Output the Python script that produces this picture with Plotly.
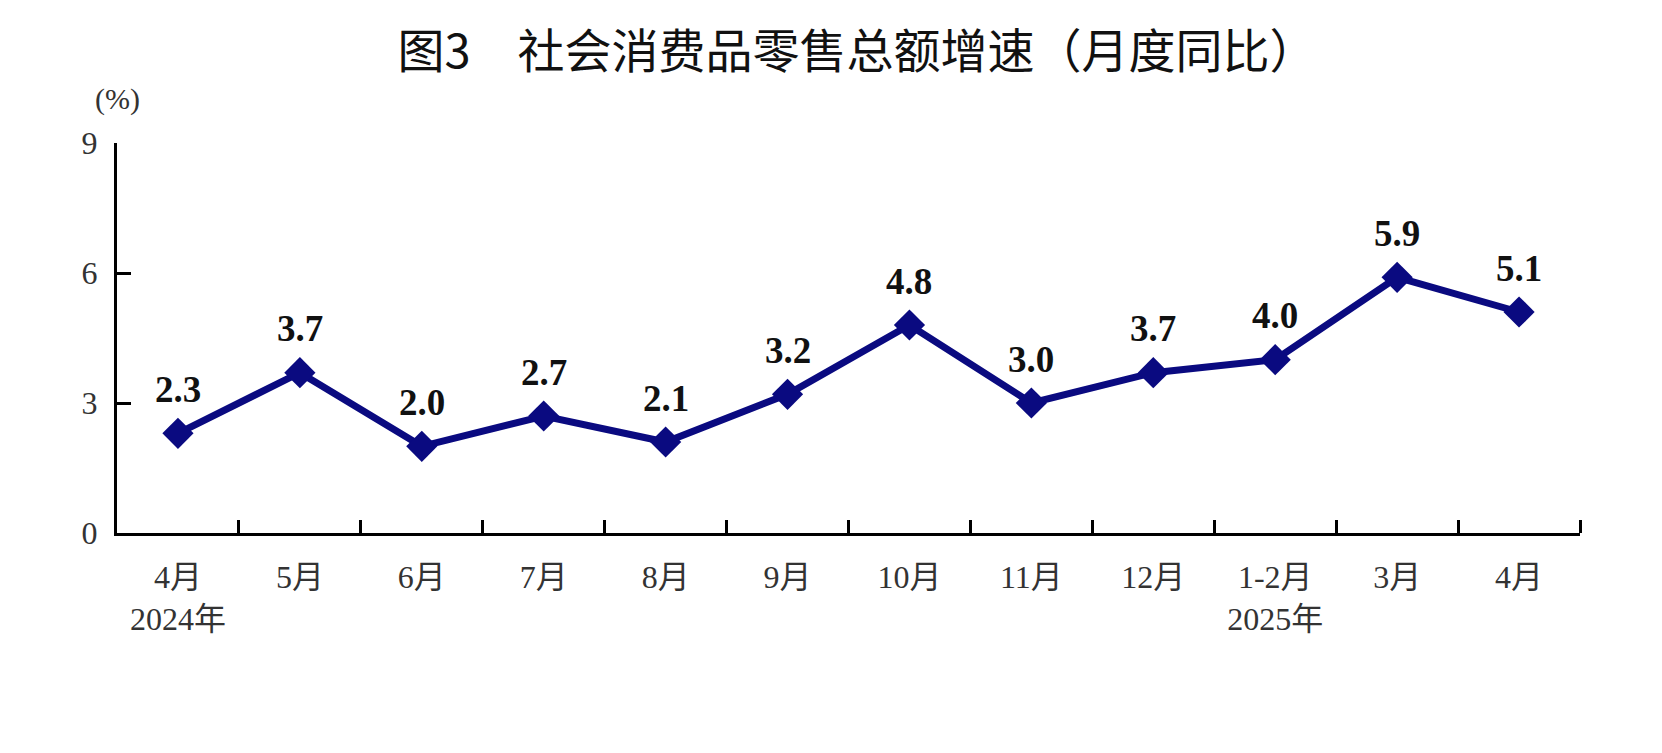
import plotly.graph_objects as go

# 社会消费品零售总额增速（月度同比），%
months = ["4月<br>2024年", "5月", "6月", "7月", "8月", "9月", "10月",
          "11月", "12月", "1-2月<br>2025年", "3月", "4月"]
growth = [2.3, 3.7, 2.0, 2.7, 2.1, 3.2, 4.8, 3.0, 3.7, 4.0, 5.9, 5.1]
y_ticks = [0, 3, 6, 9]

navy = "#0a0a80"
serif = "Liberation Serif, Noto Sans CJK SC, serif"

# x 用序号，便于刻度落在类别边界
idx = list(range(len(months)))

fig = go.Figure()
fig.add_trace(go.Scatter(
    x=idx, y=growth,
    mode="lines+markers",
    line=dict(color=navy, width=7),
    marker=dict(symbol="diamond", size=24, color=navy),
    cliponaxis=False,
    hoverinfo="skip",
))

# 数据标签
labels = [dict(x=i, y=v, text=f"{v:.1f}", xref="x", yref="y",
               showarrow=False, yshift=44, xanchor="center", yanchor="middle",
               font=dict(family=serif, size=37, color="#111111", weight="bold"))
          for i, v in zip(idx, growth)]

fig.update_layout(
    width=1662, height=753,
    margin=dict(l=109, r=90, t=135, b=228),
    paper_bgcolor="white", plot_bgcolor="white",
    showlegend=False,
    title=dict(
        text="图3　社会消费品零售总额增速（月度同比）",
        x=849 / 1662, xref="container", y=1 - 44 / 753, yref="container",
        xanchor="center", yanchor="middle",
        font=dict(family="Noto Sans CJK SC", size=47, color="#111111"),
    ),
    annotations=labels + [dict(
        text="(%)", xref="paper", yref="paper", x=0.0, y=1.113,
        xanchor="center", yanchor="middle", showarrow=False,
        font=dict(family=serif, size=30, color="#333333"),
    )],
)

fig.update_xaxes(
    range=[-0.5, len(months) - 0.5],
    tickmode="array", tickvals=idx, ticktext=months,
    showline=True, linecolor="black", linewidth=3,
    showgrid=False, zeroline=False,
    ticks="", ticklabelstandoff=14,
    tickfont=dict(family=serif, size=32, color="#333333"),
)
# 类别边界处的内向刻度，作为次刻度
fig.update_xaxes(
    minor=dict(tickmode="array", tickvals=[i + 0.5 for i in idx],
               ticks="inside", ticklen=13, tickwidth=3, tickcolor="black"),
)

fig.update_yaxes(
    range=[0, 9], tickvals=y_ticks,
    showline=True, linecolor="black", linewidth=3,
    showgrid=False, zeroline=False,
    ticks="inside", ticklen=14, tickwidth=3, tickcolor="black",
    ticklabelstandoff=10,
    tickfont=dict(family=serif, size=32, color="#333333"),
)

fig.write_html("out.html")
